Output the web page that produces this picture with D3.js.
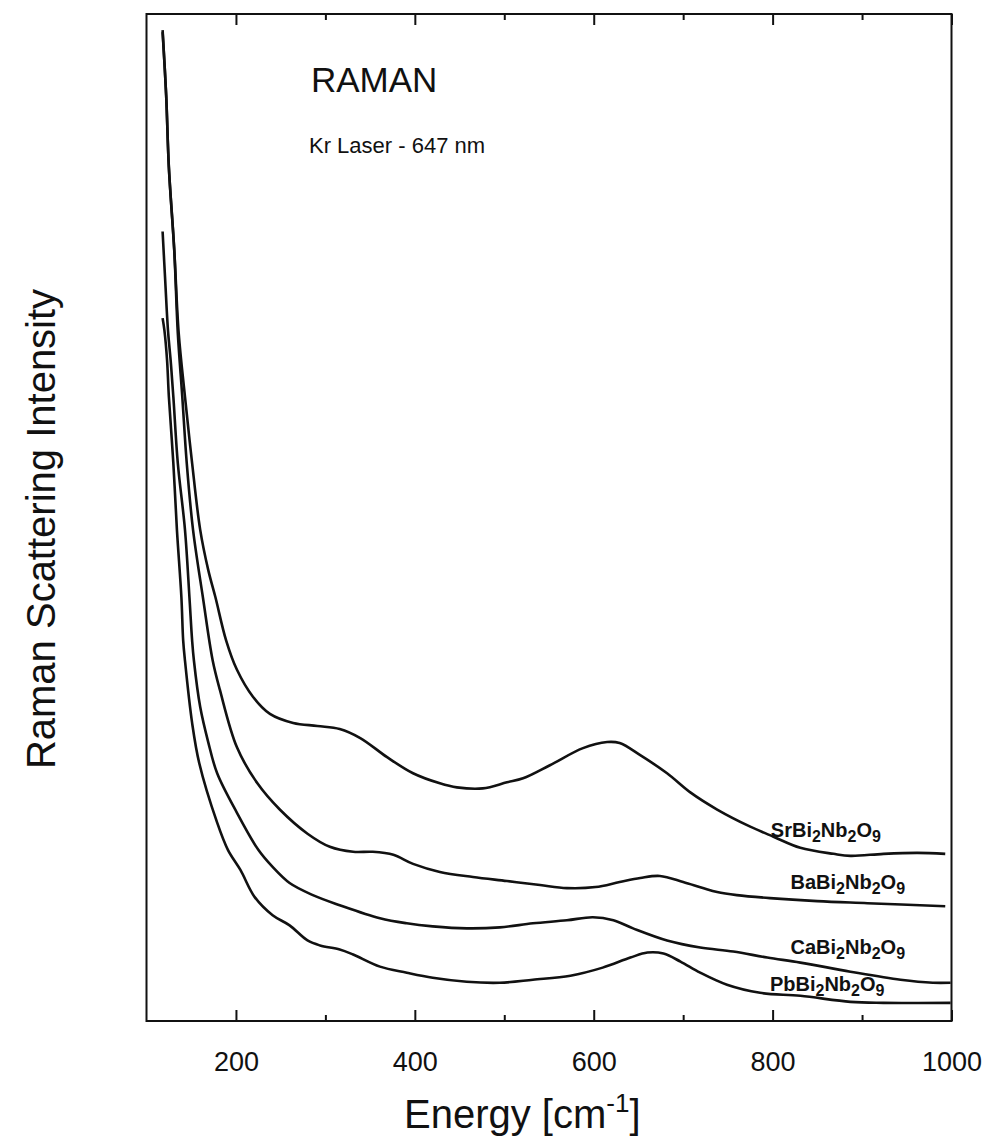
<!DOCTYPE html>
<html>
<head>
<meta charset="utf-8">
<script src="https://cdn.jsdelivr.net/npm/d3@7"></script>
<style>
  body { margin: 0; background: #fff; }
  svg { display: block; }
  text { font-family: "Liberation Sans", Arial, sans-serif; fill: #111; }
</style>
</head>
<body>
<svg width="993" height="1142"></svg>
<script>
// energy axis ticks (cm-1)
var majorTicks = [200, 400, 600, 800, 1000];
var minorTicks = [300, 500, 700, 900];

// spectra: [energy cm-1, intensity (arb. units)]
var srData = [
  [118, 98.4], [122, 91.9], [125, 84.8], [131, 76.6], [136, 68.3], [143, 62.0],
  [151, 55.4], [160, 48.8], [169, 44.8], [177, 42.1], [189, 37.8], [201, 34.9],
  [219, 32.2], [238, 30.5], [264, 29.6], [291, 29.3], [316, 29.0], [339, 28.1],
  [369, 26.2], [398, 24.6], [428, 23.6], [447, 23.2], [476, 23.1], [503, 23.7],
  [521, 24.1], [551, 25.4], [588, 27.1], [615, 27.7], [629, 27.6], [652, 26.4],
  [682, 24.6], [708, 22.7], [738, 21.0], [775, 19.3], [801, 18.3], [831, 17.2],
  [868, 16.6], [887, 16.4], [924, 16.6], [962, 16.7], [993, 16.6]
];
var baData = [
  [118, 98.2], [122, 91.9], [125, 84.8], [131, 76.6], [135, 68.3], [140, 62.0],
  [145, 55.4], [152, 48.8], [163, 42.1], [174, 35.8], [182, 32.9], [201, 27.2],
  [224, 23.6], [249, 21.0], [280, 18.6], [305, 17.3], [331, 16.8], [353, 16.8],
  [376, 16.5], [398, 15.6], [428, 14.8], [465, 14.3], [503, 13.9], [540, 13.5],
  [570, 13.2], [602, 13.3], [629, 13.8], [652, 14.2], [674, 14.4], [700, 13.8],
  [722, 13.2], [738, 12.8], [760, 12.5], [797, 12.2], [850, 11.9], [906, 11.7],
  [993, 11.4]
];
var caData = [
  [118, 78.4], [121, 73.4], [124, 68.6], [127, 65.6], [130, 62.0], [135, 55.4],
  [143, 48.8], [148, 42.1], [151, 37.8], [153, 35.8], [160, 31.2], [169, 27.7],
  [179, 24.6], [201, 20.7], [225, 17.0], [241, 15.3], [260, 13.7], [286, 12.5],
  [316, 11.5], [361, 10.2], [391, 9.7], [420, 9.4], [458, 9.2], [495, 9.3],
  [532, 9.7], [570, 10.0], [599, 10.3], [622, 10.0], [644, 9.2], [682, 8.0],
  [719, 7.3], [756, 6.9], [794, 6.3], [831, 5.8], [887, 4.9], [943, 4.1],
  [979, 3.8], [999, 3.8]
];
var pbData = [
  [118, 69.8], [120, 68.6], [123, 65.6], [125, 62.0], [130, 55.4], [134, 48.8],
  [139, 42.1], [141, 37.8], [143, 35.8], [151, 29.6], [159, 25.6], [179, 19.7],
  [191, 17.0], [205, 15.0], [221, 12.3], [241, 10.5], [260, 9.5], [280, 8.0],
  [294, 7.5], [316, 7.1], [331, 6.6], [361, 5.4], [391, 4.8], [420, 4.3],
  [458, 3.9], [495, 3.8], [532, 4.1], [574, 4.5], [610, 5.3], [641, 6.3],
  [660, 6.8], [678, 6.7], [697, 5.9], [719, 4.8], [749, 3.6], [786, 2.8],
  [831, 2.5], [887, 1.9], [924, 1.8], [999, 1.8]
];

var seriesNames = ["Sr", "Ba", "Ca", "Pb"];

var svg = d3.select("svg");
var plotLeft = 146.5, plotRight = 951.5, plotTop = 14, plotBottom = 1021;

var x = d3.scaleLinear().domain([100, 1000]).range([plotLeft, plotRight]);
var y = d3.scaleLinear().domain([0, 100]).range([plotBottom, plotTop]);

// frame
svg.append("rect")
  .attr("x", plotLeft).attr("y", plotTop)
  .attr("width", plotRight - plotLeft).attr("height", plotBottom - plotTop)
  .attr("fill", "none").attr("stroke", "#111").attr("stroke-width", 2);

function styleTicks(g) {
  g.select(".domain").remove();
  g.selectAll("line").attr("stroke", "#111").attr("stroke-width", 2);
}

// bottom ticks + labels (ticks point inward)
var gx = svg.append("g")
  .attr("transform", "translate(0," + plotBottom + ")")
  .call(d3.axisBottom(x).tickValues(majorTicks).tickFormat(d3.format("d"))
    .tickSizeInner(-11).tickSizeOuter(0).tickPadding(31))
  .call(styleTicks);
gx.selectAll("text").attr("font-size", 27).attr("fill", "#111");

svg.append("g")
  .attr("transform", "translate(0," + plotBottom + ")")
  .call(d3.axisBottom(x).tickValues(minorTicks).tickSizeInner(-6).tickSizeOuter(0).tickFormat(""))
  .call(styleTicks);

// top ticks
svg.append("g")
  .attr("transform", "translate(0," + plotTop + ")")
  .call(d3.axisTop(x).tickValues(majorTicks).tickSizeInner(-11).tickSizeOuter(0).tickFormat(""))
  .call(styleTicks);
svg.append("g")
  .attr("transform", "translate(0," + plotTop + ")")
  .call(d3.axisTop(x).tickValues(minorTicks).tickSizeInner(-6).tickSizeOuter(0).tickFormat(""))
  .call(styleTicks);

// curves
var line = d3.line()
  .x(function(d) { return x(d[0]); })
  .y(function(d) { return y(d[1]); })
  .curve(d3.curveCatmullRom.alpha(0.5));

[srData, baData, caData, pbData].forEach(function(data) {
  svg.append("path")
    .datum(data)
    .attr("d", line)
    .attr("fill", "none")
    .attr("stroke", "#111")
    .attr("stroke-width", 2.6)
    .attr("stroke-linejoin", "round");
});

// formula labels, anchored in data coordinates
var labelAt = { Sr: [798, 18.3], Ba: [820, 13.1], Ca: [820, 6.7], Pb: [797, 3.0] };
seriesNames.forEach(function(n) {
  var t = svg.append("text")
    .attr("x", x(labelAt[n][0]))
    .attr("y", y(labelAt[n][1]))
    .attr("font-size", 20)
    .attr("font-weight", "bold");
  t.append("tspan").text(n + "Bi");
  t.append("tspan").attr("dy", 5).attr("font-size", 16).text("2");
  t.append("tspan").attr("dy", -5).text("Nb");
  t.append("tspan").attr("dy", 5).attr("font-size", 16).text("2");
  t.append("tspan").attr("dy", -5).text("O");
  t.append("tspan").attr("dy", 5).attr("font-size", 16).text("9");
});

// annotations
svg.append("text").attr("x", 311).attr("y", 92).attr("font-size", 35).text("RAMAN");
svg.append("text").attr("x", 309).attr("y", 153).attr("font-size", 22).text("Kr Laser - 647 nm");

// axis titles
var xt = svg.append("text").attr("x", 404).attr("y", 1128).attr("font-size", 40);
xt.append("tspan").text("Energy [cm");
xt.append("tspan").attr("dy", -16).attr("font-size", 26).text("-1");
xt.append("tspan").attr("dy", 16).text("]");

svg.append("text")
  .attr("transform", "translate(55,529) rotate(-90)")
  .attr("text-anchor", "middle")
  .attr("font-size", 40)
  .text("Raman Scattering Intensity");
</script>
</body>
</html>
